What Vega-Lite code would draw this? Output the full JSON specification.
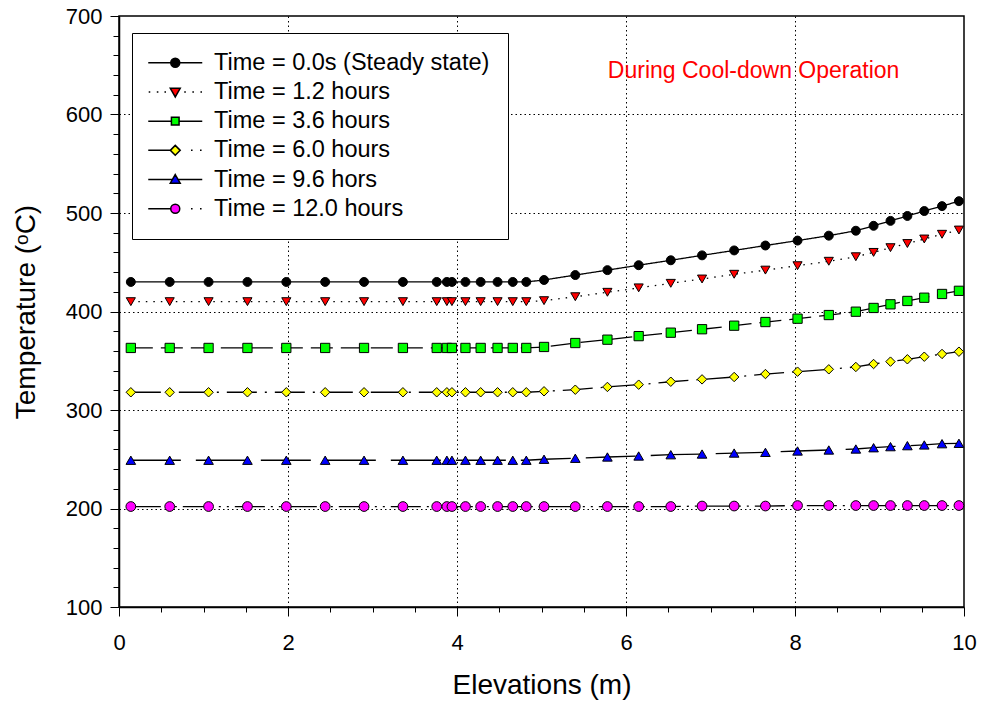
{
  "$schema": "https://vega.github.io/schema/vega-lite/v6.json",
  "width": 845,
  "height": 591,
  "autosize": "none",
  "padding": {"left": 119, "top": 16, "right": 18, "bottom": 103},
  "background": "white",
  "config": {
    "view": {"stroke": "black", "strokeWidth": 1.5},
    "font": "Liberation Sans"
  },
  "data": {
    "values": [
      {"e": 0.14, "s0": 430, "s1": 410, "s2": 363, "s3": 318, "s4": 249, "s5": 202},
      {"e": 0.6, "s0": 430, "s1": 410, "s2": 363, "s3": 318, "s4": 249, "s5": 202},
      {"e": 1.06, "s0": 430, "s1": 410, "s2": 363, "s3": 318, "s4": 249, "s5": 202},
      {"e": 1.52, "s0": 430, "s1": 410, "s2": 363, "s3": 318, "s4": 249, "s5": 202},
      {"e": 1.98, "s0": 430, "s1": 410, "s2": 363, "s3": 318, "s4": 249, "s5": 202},
      {"e": 2.44, "s0": 430, "s1": 410, "s2": 363, "s3": 318, "s4": 249, "s5": 202},
      {"e": 2.9, "s0": 430, "s1": 410, "s2": 363, "s3": 318, "s4": 249, "s5": 202},
      {"e": 3.36, "s0": 430, "s1": 410, "s2": 363, "s3": 318, "s4": 249, "s5": 202},
      {"e": 3.76, "s0": 430, "s1": 410, "s2": 363, "s3": 318, "s4": 249, "s5": 202},
      {"e": 3.88, "s0": 430, "s1": 410, "s2": 363, "s3": 318, "s4": 249, "s5": 202},
      {"e": 3.94, "s0": 430, "s1": 410, "s2": 363, "s3": 318, "s4": 249, "s5": 202},
      {"e": 4.1, "s0": 430, "s1": 410, "s2": 363, "s3": 318, "s4": 249, "s5": 202},
      {"e": 4.28, "s0": 430, "s1": 410, "s2": 363, "s3": 318, "s4": 249, "s5": 202},
      {"e": 4.48, "s0": 430, "s1": 410, "s2": 363, "s3": 318, "s4": 249, "s5": 202},
      {"e": 4.66, "s0": 430, "s1": 410, "s2": 363, "s3": 318, "s4": 249, "s5": 202},
      {"e": 4.82, "s0": 430, "s1": 410, "s2": 363, "s3": 318, "s4": 249, "s5": 202},
      {"e": 5.03, "s0": 432, "s1": 411, "s2": 364, "s3": 319, "s4": 250, "s5": 202},
      {"e": 5.4, "s0": 437, "s1": 415, "s2": 368, "s3": 320.6, "s4": 251, "s5": 202},
      {"e": 5.78, "s0": 442, "s1": 419.5, "s2": 371.4, "s3": 323.4, "s4": 252.3, "s5": 202},
      {"e": 6.15, "s0": 447, "s1": 424, "s2": 375, "s3": 325.7, "s4": 253.3, "s5": 202},
      {"e": 6.53, "s0": 452, "s1": 428.6, "s2": 378.5, "s3": 328.7, "s4": 254.6, "s5": 202},
      {"e": 6.9, "s0": 457, "s1": 433, "s2": 382, "s3": 331.1, "s4": 255.3, "s5": 202.5},
      {"e": 7.28, "s0": 462, "s1": 437.8, "s2": 385.6, "s3": 333.5, "s4": 256.3, "s5": 202.5},
      {"e": 7.65, "s0": 467, "s1": 442, "s2": 389.3, "s3": 336.5, "s4": 257, "s5": 202.5},
      {"e": 8.03, "s0": 472, "s1": 446.5, "s2": 392.7, "s3": 338.9, "s4": 258.4, "s5": 203},
      {"e": 8.4, "s0": 477, "s1": 451, "s2": 396.4, "s3": 341.3, "s4": 259.4, "s5": 203},
      {"e": 8.72, "s0": 482, "s1": 455.6, "s2": 399.8, "s3": 343.7, "s4": 260.4, "s5": 203},
      {"e": 8.93, "s0": 487, "s1": 460, "s2": 403.6, "s3": 346.7, "s4": 261.7, "s5": 203},
      {"e": 9.13, "s0": 492, "s1": 464.8, "s2": 407.3, "s3": 349.1, "s4": 262.8, "s5": 203},
      {"e": 9.33, "s0": 497, "s1": 469, "s2": 410.7, "s3": 351.5, "s4": 263.8, "s5": 203},
      {"e": 9.53, "s0": 502, "s1": 473.6, "s2": 414, "s3": 354.1, "s4": 264.5, "s5": 203},
      {"e": 9.74, "s0": 507, "s1": 478.4, "s2": 417.8, "s3": 356.9, "s4": 265.8, "s5": 203},
      {"e": 9.94, "s0": 512, "s1": 482.7, "s2": 421, "s3": 359.2, "s4": 266.2, "s5": 203}
    ]
  },
  "layer": [
    {
      "encoding": {
        "x": {
          "field": "e",
          "type": "quantitative",
          "scale": {"domain": [0, 10], "nice": false, "zero": false},
          "axis": {
            "title": "Elevations (m)",
            "values": [0, 0.5, 1, 1.5, 2, 2.5, 3, 3.5, 4, 4.5, 5, 5.5, 6, 6.5, 7, 7.5, 8, 8.5, 9, 9.5, 10],
            "labelExpr": "datum.value % 2 === 0 ? format(datum.value, 'd') : ''",
            "labelFlush": false,
            "labelOverlap": false,
            "labelFontSize": 22,
            "labelColor": "black",
            "labelPadding": 16,
            "tickColor": "black",
            "tickWidth": 1,
            "tickSize": {"condition": {"test": "datum.value % 2 === 0", "value": 9}, "value": 5},
            "domainColor": "black",
            "domainWidth": 1.5,
            "grid": true,
            "gridColor": "black",
            "gridDash": [1.5, 3],
            "gridWidth": 1,
            "gridOpacity": {"condition": {"test": "datum.value % 2 === 0 && datum.value > 0 && datum.value < 10", "value": 1}, "value": 0},
            "titleFontSize": 28,
            "titleFontWeight": "normal",
            "titleColor": "black",
            "titlePadding": 18
          }
        },
        "y": {
          "field": "temp",
          "type": "quantitative",
          "scale": {"domain": [100, 700], "nice": false, "zero": false},
          "axis": {
            "title": "Temperature (ᵒC)",
            "values": [100, 120, 140, 160, 180, 200, 220, 240, 260, 280, 300, 320, 340, 360, 380, 400, 420, 440, 460, 480, 500, 520, 540, 560, 580, 600, 620, 640, 660, 680, 700],
            "labelExpr": "datum.value % 100 === 0 ? datum.label : ''",
            "labelFlush": false,
            "labelOverlap": false,
            "labelFontSize": 22,
            "labelColor": "black",
            "labelPadding": 8,
            "tickColor": "black",
            "tickWidth": 1,
            "tickSize": {"condition": {"test": "datum.value % 100 === 0", "value": 9}, "value": 6},
            "domainColor": "black",
            "domainWidth": 1.5,
            "grid": true,
            "gridColor": "black",
            "gridDash": [1.5, 3],
            "gridWidth": 1,
            "gridOpacity": {"condition": {"test": "datum.value % 100 === 0 && datum.value > 100 && datum.value < 700", "value": 1}, "value": 0},
            "titleFontSize": 28,
            "titleFontWeight": "normal",
            "titleColor": "black",
            "titlePadding": 25
          }
        }
      },
      "layer": [
        {
          "transform": [{"fold": ["s0", "s1", "s2", "s3", "s4", "s5"], "as": ["series", "temp"]}],
          "mark": {"type": "line", "stroke": "black", "strokeWidth": 1.3},
          "encoding": {
            "strokeDash": {
              "field": "series",
              "type": "nominal",
              "scale": {
                "domain": ["s0", "s1", "s2", "s3", "s4", "s5"],
                "range": [[1, 0], [1.5, 6], [22, 8], [30, 8, 2, 8], [50, 15], [30, 6, 2, 6, 2, 6]]
              },
              "legend": null
            }
          }
        },
        {
          "transform": [{"fold": ["s0", "s1", "s2", "s3", "s4", "s5"], "as": ["series", "temp"]}],
          "mark": {"type": "point", "filled": true, "stroke": "black", "strokeWidth": 1, "opacity": 1},
          "encoding": {
            "shape": {
              "field": "series",
              "type": "nominal",
              "scale": {
                "domain": ["s0", "s1", "s2", "s3", "s4", "s5"],
                "range": ["circle", "triangle-down", "square", "diamond", "triangle-up", "circle"]
              },
              "legend": null
            },
            "size": {
              "field": "series",
              "type": "nominal",
              "scale": {
                "domain": ["s0", "s1", "s2", "s3", "s4", "s5"],
                "range": [80, 95, 62, 100, 95, 80]
              },
              "legend": null
            },
            "fill": {
              "field": "series",
              "type": "nominal",
              "scale": {
                "domain": ["s0", "s1", "s2", "s3", "s4", "s5"],
                "range": ["#000000", "#ff0000", "#00ff00", "#ffff00", "#0000ff", "#ff00ff"]
              },
              "legend": null
            }
          }
        },
        {
          "transform": [
            {"fold": ["s0", "s1", "s2", "s3", "s4", "s5"], "as": ["series", "temp"]},
            {"filter": "false"}
          ],
          "mark": {"type": "point", "filled": true, "strokeWidth": 1.5, "opacity": 1},
          "encoding": {
            "shape": {
              "field": "series",
              "type": "nominal",
              "scale": {
                "domain": ["s0", "s1", "s2", "s3", "s4", "s5"],
                "range": [
                  "M-6,0H-1M1,0H6M1,0A1,1,0,1,1,-1,0A1,1,0,1,1,1,0Z",
                  "M-5.9,0h0.35M-4.1,0h0.35M-2.4,0h0.35M-1.1,-0.8H1.1L0,1.1ZM2,0h0.35M3.8,0h0.35M5.6,0h0.35",
                  "M-6,0H-0.85M0.85,0H6M-0.85,-0.85H0.85V0.85H-0.85Z",
                  "M-6,0H-1.1M0,-1.1L1.1,0L0,1.1L-1.1,0ZM3.5,0h0.35M5.5,0h0.35",
                  "M-6,0H-0.64M0.64,0H6M0,-1.1L1.1,0.8H-1.1Z",
                  "M-6,0H-1M1,0A1,1,0,1,1,-1,0A1,1,0,1,1,1,0ZM3.5,0h0.35M5.5,0h0.35"
                ]
              },
              "legend": {
                "orient": "none",
                "legendX": 13,
                "legendY": 17,
                "title": null,
                "labelExpr": "datum.label == 's0' ? 'Time = 0.0s (Steady state)' : datum.label == 's1' ? 'Time = 1.2 hours' : datum.label == 's2' ? 'Time = 3.6 hours' : datum.label == 's3' ? 'Time = 6.0 hours' : datum.label == 's4' ? 'Time = 9.6 hors' : 'Time = 12.0 hours'",
                "labelFontSize": 23.5,
                "labelColor": "black",
                "labelLimit": 0,
                "symbolSize": 81,
                "symbolOffset": 13.5,
                "labelOffset": 27,
                "padding": 18,
                "rowPadding": 4.2,
                "strokeColor": "black",
                "fillColor": "white",
                "symbolStrokeWidth": 1.5
              }
            },
            "stroke": {
              "field": "series",
              "type": "nominal",
              "scale": {
                "domain": ["s0", "s1", "s2", "s3", "s4", "s5"],
                "range": ["#000000", "#000000", "#000000", "#000000", "#000000", "#000000"]
              },
              "legend": {
                "orient": "none",
                "legendX": 13,
                "legendY": 17,
                "title": null,
                "labelExpr": "datum.label == 's0' ? 'Time = 0.0s (Steady state)' : datum.label == 's1' ? 'Time = 1.2 hours' : datum.label == 's2' ? 'Time = 3.6 hours' : datum.label == 's3' ? 'Time = 6.0 hours' : datum.label == 's4' ? 'Time = 9.6 hors' : 'Time = 12.0 hours'",
                "labelFontSize": 23.5,
                "labelColor": "black",
                "labelLimit": 0,
                "symbolSize": 81,
                "symbolOffset": 13.5,
                "labelOffset": 27,
                "padding": 18,
                "rowPadding": 4.2,
                "strokeColor": "black",
                "fillColor": "white",
                "symbolStrokeWidth": 1.5
              }
            },
            "fill": {
              "field": "series",
              "type": "nominal",
              "scale": {
                "domain": ["s0", "s1", "s2", "s3", "s4", "s5"],
                "range": ["#000000", "#ff0000", "#00ff00", "#ffff00", "#0000ff", "#ff00ff"]
              },
              "legend": {
                "orient": "none",
                "legendX": 13,
                "legendY": 17,
                "title": null,
                "labelExpr": "datum.label == 's0' ? 'Time = 0.0s (Steady state)' : datum.label == 's1' ? 'Time = 1.2 hours' : datum.label == 's2' ? 'Time = 3.6 hours' : datum.label == 's3' ? 'Time = 6.0 hours' : datum.label == 's4' ? 'Time = 9.6 hors' : 'Time = 12.0 hours'",
                "labelFontSize": 23.5,
                "labelColor": "black",
                "labelLimit": 0,
                "symbolSize": 81,
                "symbolOffset": 13.5,
                "labelOffset": 27,
                "padding": 18,
                "rowPadding": 4.2,
                "strokeColor": "black",
                "fillColor": "white",
                "symbolStrokeWidth": 1.5
              }
            }
          }
        }
      ],
      "resolve": {"scale": {"shape": "independent", "fill": "independent", "stroke": "independent", "size": "independent"}}
    },
    {
      "data": {"values": [{"note": "During Cool-down Operation"}]},
      "mark": {"type": "text", "fill": "#ff0000", "fontSize": 23, "align": "center", "baseline": "middle"},
      "encoding": {
        "x": {
          "datum": 7.51,
          "type": "quantitative",
          "axis": {
            "title": "Elevations (m)",
            "values": [0, 0.5, 1, 1.5, 2, 2.5, 3, 3.5, 4, 4.5, 5, 5.5, 6, 6.5, 7, 7.5, 8, 8.5, 9, 9.5, 10],
            "labelExpr": "datum.value % 2 === 0 ? format(datum.value, 'd') : ''",
            "labelFlush": false,
            "labelOverlap": false,
            "labelFontSize": 22,
            "labelColor": "black",
            "labelPadding": 16,
            "tickColor": "black",
            "tickWidth": 1,
            "tickSize": {"condition": {"test": "datum.value % 2 === 0", "value": 9}, "value": 5},
            "domainColor": "black",
            "domainWidth": 1.5,
            "grid": true,
            "gridColor": "black",
            "gridDash": [1.5, 3],
            "gridWidth": 1,
            "gridOpacity": {"condition": {"test": "datum.value % 2 === 0 && datum.value > 0 && datum.value < 10", "value": 1}, "value": 0},
            "titleFontSize": 28,
            "titleFontWeight": "normal",
            "titleColor": "black",
            "titlePadding": 18
          }
        },
        "y": {
          "datum": 644,
          "type": "quantitative",
          "axis": {
            "title": "Temperature (ᵒC)",
            "values": [100, 120, 140, 160, 180, 200, 220, 240, 260, 280, 300, 320, 340, 360, 380, 400, 420, 440, 460, 480, 500, 520, 540, 560, 580, 600, 620, 640, 660, 680, 700],
            "labelExpr": "datum.value % 100 === 0 ? datum.label : ''",
            "labelFlush": false,
            "labelOverlap": false,
            "labelFontSize": 22,
            "labelColor": "black",
            "labelPadding": 8,
            "tickColor": "black",
            "tickWidth": 1,
            "tickSize": {"condition": {"test": "datum.value % 100 === 0", "value": 9}, "value": 6},
            "domainColor": "black",
            "domainWidth": 1.5,
            "grid": true,
            "gridColor": "black",
            "gridDash": [1.5, 3],
            "gridWidth": 1,
            "gridOpacity": {"condition": {"test": "datum.value % 100 === 0 && datum.value > 100 && datum.value < 700", "value": 1}, "value": 0},
            "titleFontSize": 28,
            "titleFontWeight": "normal",
            "titleColor": "black",
            "titlePadding": 25
          }
        },
        "text": {"field": "note", "type": "nominal"}
      }
    }
  ]
}
